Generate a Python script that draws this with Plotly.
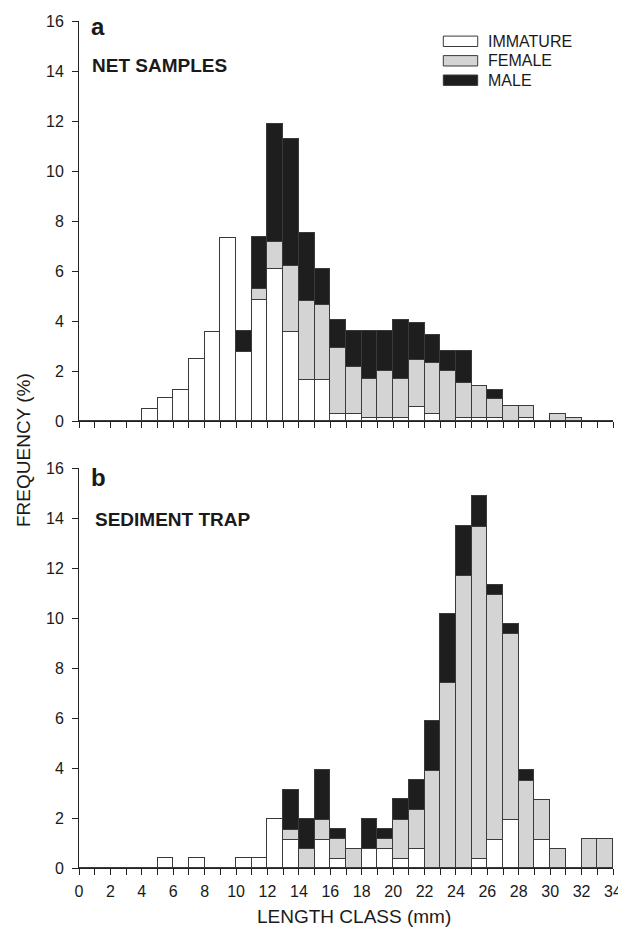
import plotly.graph_objects as go

# ---- data: length classes (left edge, mm) and frequency (%) per class ----
length_class = list(range(34))

net_immature = [0, 0, 0, 0, 0.47, 0.92, 1.24, 2.49, 3.57, 7.33,
                2.77, 4.83, 6.07, 3.55, 1.65, 1.65, 0.27, 0.27, 0.11, 0.11,
                0.11, 0.57, 0.27, 0, 0.11, 0.11, 0.11, 0, 0.11, 0,
                0, 0, 0, 0]
net_female = [0, 0, 0, 0, 0, 0, 0, 0, 0, 0,
              0, 0.44, 1.08, 2.66, 3.15, 2.99, 2.65, 1.88, 1.57, 1.88,
              1.57, 1.88, 2.04, 1.99, 1.41, 1.28, 0.78, 0.6, 0.49, 0,
              0.29, 0.13, 0, 0]
net_male = [0, 0, 0, 0, 0, 0, 0, 0, 0, 0,
            0.83, 2.08, 4.74, 5.07, 2.71, 1.45, 1.13, 1.45, 1.92, 1.61,
            2.37, 1.46, 1.14, 0.82, 1.29, 0, 0.35, 0, 0, 0,
            0, 0, 0, 0]

trap_immature = [0, 0, 0, 0, 0, 0.4, 0, 0.4, 0, 0,
                 0.4, 0.4, 1.95, 1.13, 0, 1.13, 0.35, 0, 0.75, 0.75,
                 0.35, 0.75, 0, 0, 0, 0.35, 1.13, 1.93, 0, 1.13,
                 0, 0, 0, 0]
trap_female = [0, 0, 0, 0, 0, 0, 0, 0, 0, 0,
               0, 0, 0, 0.39, 0.75, 0.8, 0.8, 0.77, 0, 0.4,
               1.58, 1.56, 3.87, 7.4, 11.69, 13.3, 9.78, 7.43, 3.48, 1.59,
               0.77, 0, 1.15, 1.15]
trap_male = [0, 0, 0, 0, 0, 0, 0, 0, 0, 0,
             0, 0, 0, 1.61, 1.21, 1.98, 0.41, 0, 1.21, 0.41,
             0.82, 1.22, 2.0, 2.77, 2.0, 1.22, 0.42, 0.41, 0.43, 0,
             0, 0, 0, 0]

series_names = ["IMMATURE", "FEMALE", "MALE"]
series_colors = ["#ffffff", "#d4d4d4", "#1e1e1e"]

x_tickvals = list(range(35))
x_ticktext = [str(v) if v % 2 == 0 else "" for v in x_tickvals]
y_tickvals = list(range(0, 17, 2))

FONT = "Liberation Sans, Arial, Helvetica, sans-serif"
LINE = "#3a3a3a"

fig = go.Figure()

panels = [
    ("x", "y", [net_immature, net_female, net_male]),
    ("x2", "y2", [trap_immature, trap_female, trap_male]),
]
for xa, ya, vals in panels:
    for name, color, v in zip(series_names, series_colors, vals):
        fig.add_trace(go.Bar(
            x=length_class, y=v, offset=0, width=1,
            name=name, xaxis=xa, yaxis=ya,
            marker=dict(color=color, line=dict(color=LINE, width=1)),
            showlegend=False,
        ))

axis_common = dict(
    showgrid=False, zeroline=False, showline=True, linecolor="#222222",
    linewidth=1, ticks="outside", ticklen=6, tickcolor="#222222",
    tickwidth=1, tickfont=dict(family=FONT, size=16, color="#1a1a1a"),
    automargin=False,
)

top_dom = [(868 - 421) / 847, 1.0]
bot_dom = [0.0, (868 - 468) / 847]

# the page body adds an 8px offset, so the figure is 618x922
fig.update_layout(
    width=618, height=922,
    margin=dict(l=71, r=13, t=13, b=62, autoexpand=False),
    paper_bgcolor="white", plot_bgcolor="white",
    barmode="stack", bargap=0,
    font=dict(family=FONT, color="#1a1a1a"),
    xaxis=dict(range=[0, 34], domain=[0, 1], anchor="y",
               tickvals=x_tickvals, showticklabels=False, **axis_common),
    yaxis=dict(range=[0, 16], domain=top_dom, anchor="x",
               tickvals=y_tickvals, ticklabelstandoff=5, **axis_common),
    xaxis2=dict(range=[0, 34], domain=[0, 1], anchor="y2",
                tickvals=x_tickvals, ticktext=x_ticktext,
                ticklabelstandoff=3, **axis_common),
    yaxis2=dict(range=[0, 16], domain=bot_dom, anchor="x2",
                tickvals=y_tickvals, ticklabelstandoff=5, **axis_common),
)

def px_x(p):
    return (p - 79) / 534

def px_y(p):
    return (868 - p) / 847

annotations = [
    dict(text="<b>a</b>", x=px_x(89), y=px_y(27), font=dict(size=24)),
    dict(text="<b>NET SAMPLES</b>", x=px_x(90), y=px_y(65), font=dict(size=19)),
    dict(text="<b>b</b>", x=px_x(89), y=px_y(477), font=dict(size=24)),
    dict(text="<b>SEDIMENT TRAP</b>", x=px_x(93), y=px_y(519), font=dict(size=19)),
]
for a in annotations:
    a.update(xref="paper", yref="paper", xanchor="left", yanchor="middle",
             showarrow=False)
    a["font"].update(family=FONT, color="#1a1a1a")
    fig.add_annotation(**a)

# axis titles
fig.add_annotation(text="FREQUENCY (%)", x=px_x(23), y=px_y(450),
                   xref="paper", yref="paper", textangle=-90,
                   xanchor="center", yanchor="middle", showarrow=False,
                   font=dict(family=FONT, size=19, color="#1a1a1a"))
fig.add_annotation(text="LENGTH CLASS (mm)", x=px_x(354), y=px_y(916),
                   xref="paper", yref="paper",
                   xanchor="center", yanchor="middle", showarrow=False,
                   font=dict(family=FONT, size=19, color="#1a1a1a"))

# manual legend (swatches + labels)
row_centers = [41.3, 60.8, 80.2]
for name, color, yc in zip(series_names, series_colors, row_centers):
    fig.add_shape(type="rect", xref="paper", yref="paper",
                  x0=px_x(443.3), x1=px_x(477.7),
                  y0=px_y(yc + 5.2), y1=px_y(yc - 5.2),
                  fillcolor=color, line=dict(color=LINE, width=1))
    fig.add_annotation(text=name, x=px_x(486), y=px_y(yc),
                       xref="paper", yref="paper", xanchor="left",
                       yanchor="middle", showarrow=False,
                       font=dict(family=FONT, size=16, color="#1a1a1a"))

fig.write_html("out.html")
